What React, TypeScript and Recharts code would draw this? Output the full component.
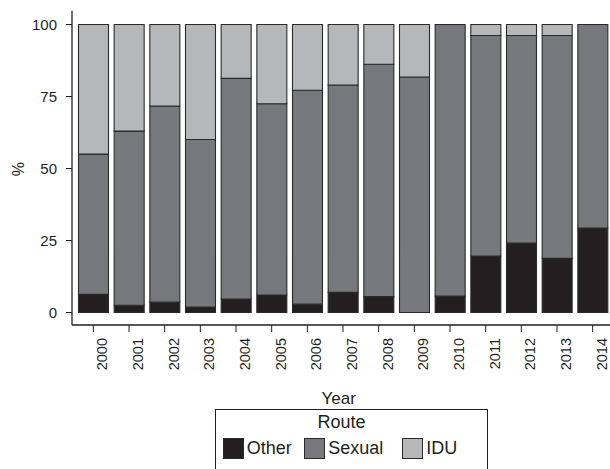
import React from 'react';
import { BarChart, Bar, XAxis, YAxis } from 'recharts';

const years = ['2000','2001','2002','2003','2004','2005','2006','2007','2008','2009','2010','2011','2012','2013','2014'];
const otherValues = [6.3, 2.5, 3.6, 1.9, 4.7, 6.1, 2.9, 7.0, 5.5, 0, 5.7, 19.6, 24.1, 18.8, 29.3];
const sexualValues = [48.7, 60.5, 68.1, 58.2, 76.6, 66.4, 74.3, 72.0, 80.7, 81.8, 94.3, 76.6, 72.1, 77.4, 70.7];
const iduValues = [45.0, 37.0, 28.3, 39.9, 18.7, 27.5, 22.8, 21.0, 13.8, 18.2, 0, 3.8, 3.8, 3.8, 0];
const yTicks = [0, 25, 50, 75, 100];

const seriesNames = ['Other', 'Sexual', 'IDU'];
const seriesKeys = ['other', 'sexual', 'idu'];
const seriesColors = ['#231f20', '#77787b', '#b6b7b9'];

const data = years.map((y, i) => ({
  year: y,
  other: otherValues[i],
  sexual: sexualValues[i],
  idu: iduValues[i],
}));

const FONT = '"Liberation Sans", Arial, Helvetica, sans-serif';
const INK = '#231f20';

const XTick = (props: any) => {
  const { x, y, payload } = props;
  const tx = x + 9;
  const ty = y;
  return (
    <text
      x={tx}
      y={ty}
      transform={`rotate(-90, ${tx}, ${ty})`}
      textAnchor="end"
      dominantBaseline="central"
      fontSize={14.5}
      fontFamily={FONT}
      fill={INK}
    >
      {payload.value}
    </text>
  );
};

const legendLefts = [222.7, 304.3, 402.3];

export default function App() {
  return (
    <div style={{ position: 'absolute', left: 0, top: 0, width: 610, height: 469, overflow: 'hidden', background: '#fff', fontFamily: FONT }}>
      <BarChart
        width={614}
        height={469}
        data={data}
        margin={{ top: 10.7, right: 0, bottom: 64, left: 0 }}
        barSize={30}
      >
        <XAxis
          xAxisId="top"
          orientation="top"
          dataKey="year"
          height={0}
          tick={false}
          tickLine={false}
          axisLine={{ stroke: INK, strokeWidth: 1.3 }}
          padding={{ left: 3.5, right: 3.5 }}
        />
        <XAxis
          dataKey="year"
          height={80}
          tickSize={7}
          tickMargin={6}
          interval={0}
          tick={<XTick />}
          tickLine={{ stroke: INK, strokeWidth: 1 }}
          axisLine={{ stroke: INK, strokeWidth: 1.3 }}
          padding={{ left: 3.5, right: 3.5 }}
          label={{
            value: 'Year',
            content: () => (
              <text x={338.7} y={398.5} textAnchor="middle" dominantBaseline="central" fontSize={17} fontFamily={FONT} fill={INK}>
                Year
              </text>
            ),
          }}
        />
        <YAxis
          width={72}
          domain={[-4.34, 104.8]}
          ticks={yTicks}
          allowDataOverflow
          tickSize={6}
          tickMargin={9}
          tick={{ fontSize: 15, fill: INK, fontFamily: FONT }}
          tickLine={{ stroke: INK, strokeWidth: 1 }}
          axisLine={{ stroke: INK, strokeWidth: 1.3 }}
          label={{
            value: '%',
            content: () => (
              <text x={18.5} y={169} transform="rotate(-90, 18.5, 169)" textAnchor="middle" dominantBaseline="central" fontSize={16} fontFamily={FONT} fill={INK}>
                %
              </text>
            ),
          }}
        />
        {seriesKeys.map((k, i) => (
          <Bar
            key={k}
            dataKey={k}
            name={seriesNames[i]}
            stackId="a"
            fill={seriesColors[i]}
            stroke="#2a2a2a"
            strokeWidth={1.1}
            isAnimationActive={false}
          />
        ))}
      </BarChart>
      <div
        style={{
          position: 'absolute',
          left: 215,
          top: 409,
          width: 273,
          height: 80,
          border: `1.3px solid ${INK}`,
          boxSizing: 'border-box',
        }}
      />
      <div style={{ position: 'absolute', left: 311.5, top: 412.5, width: 60, textAlign: 'center', fontSize: 18, color: INK, lineHeight: '18px' }}>
        Route
      </div>
      {seriesNames.map((n, i) => (
        <div key={n} style={{ position: 'absolute', left: legendLefts[i], top: 438.3, height: 21, display: 'flex', alignItems: 'center' }}>
          <div style={{ width: 21, height: 21, background: seriesColors[i], border: '1px solid #2a2a2a', boxSizing: 'border-box' }} />
          <span style={{ marginLeft: 3, fontSize: 18, color: INK, lineHeight: '21px' }}>{n}</span>
        </div>
      ))}
    </div>
  );
}
